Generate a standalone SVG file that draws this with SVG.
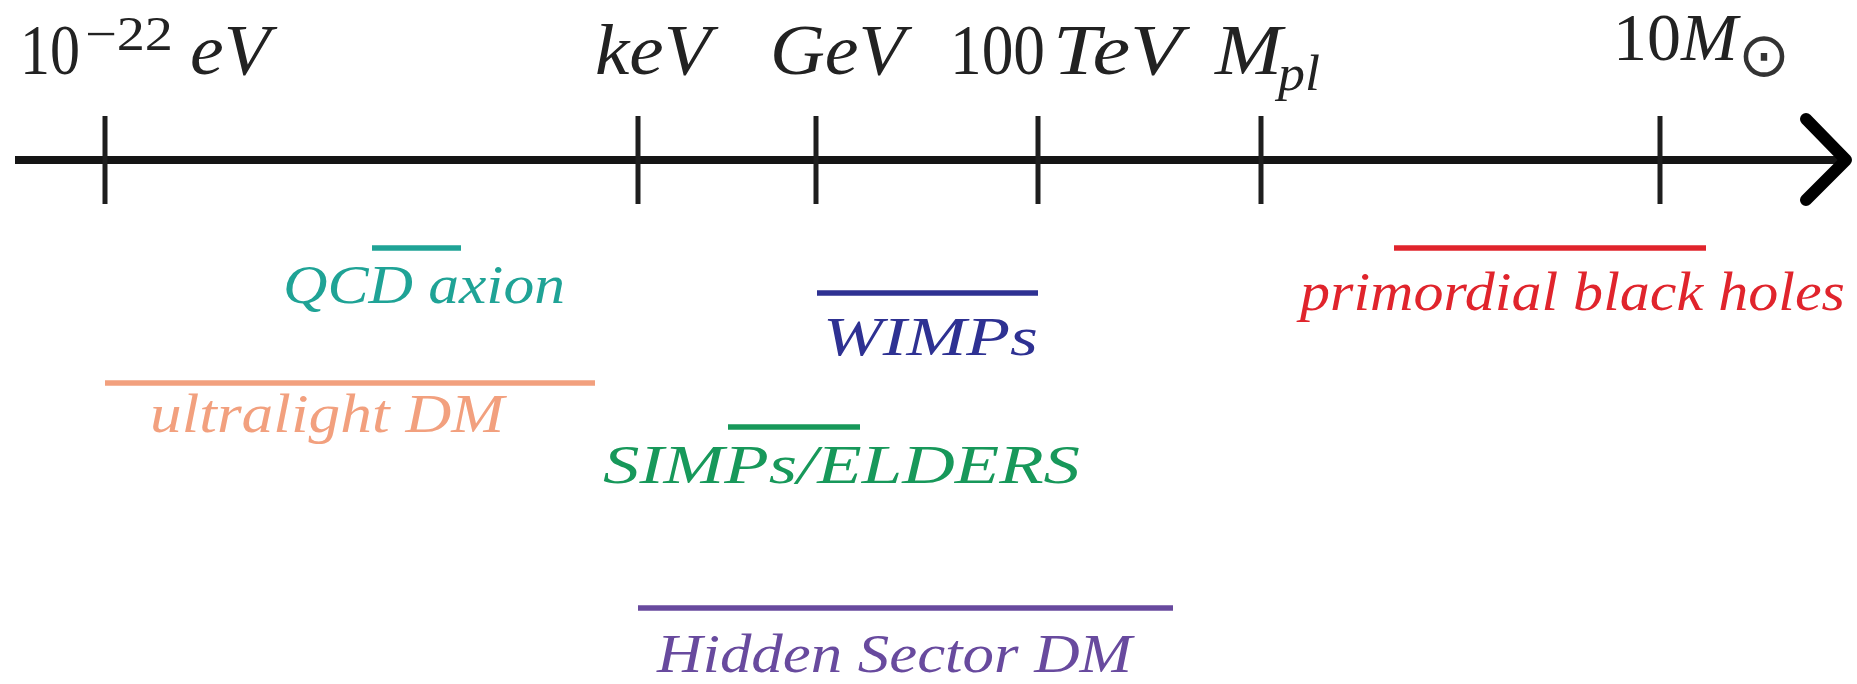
<svg xmlns="http://www.w3.org/2000/svg" width="1857" height="684" viewBox="0 0 1857 684">
<style>
.it{font-family:"Liberation Serif","Times New Roman",serif;font-style:italic}
.rm{font-family:"Liberation Serif","Times New Roman",serif}
.top{font-size:72px;fill:#222222}
.lab{font-size:55px}
.tick{stroke:#1e1e1e;stroke-width:5}
.bar{stroke-width:5.5;fill:none}
</style>
<rect width="1857" height="684" fill="#ffffff"/>
<g id="axis">
<line x1="15" y1="160" x2="1842" y2="160" stroke="#151515" stroke-width="8"/>
<polyline points="1806,119 1846,160 1806,200" fill="none" stroke="#000" stroke-width="12" stroke-linecap="round" stroke-linejoin="round"/>
<line class="tick" x1="105" y1="116" x2="105" y2="204"/>
<line class="tick" x1="638" y1="116" x2="638" y2="204"/>
<line class="tick" x1="816" y1="116" x2="816" y2="204"/>
<line class="tick" x1="1038" y1="116" x2="1038" y2="204"/>
<line class="tick" x1="1261" y1="116" x2="1261" y2="204"/>
<line class="tick" x1="1660" y1="116" x2="1660" y2="204"/>
</g>
<g id="label-1e-22eV">
<text class="rm top" x="20" y="74" textLength="60" lengthAdjust="spacingAndGlyphs">10</text>
<text class="rm" x="85" y="50" font-size="48" fill="#222222" textLength="88" lengthAdjust="spacingAndGlyphs">−22</text>
<text class="it top" x="190" y="74" textLength="80" lengthAdjust="spacingAndGlyphs">eV</text>
</g>
<g id="label-keV">
<text class="it top" x="595" y="74" textLength="116" lengthAdjust="spacingAndGlyphs">keV</text>
</g>
<g id="label-GeV">
<text class="it top" x="770" y="74" textLength="135" lengthAdjust="spacingAndGlyphs">GeV</text>
</g>
<g id="label-100TeV">
<text class="rm top" x="950" y="74" textLength="95" lengthAdjust="spacingAndGlyphs">100</text>
<text class="it top" x="1053" y="74" textLength="129" lengthAdjust="spacingAndGlyphs">TeV</text>
</g>
<g id="label-Mpl">
<text class="it top" x="1215" y="74" textLength="67" lengthAdjust="spacingAndGlyphs">M</text>
<text class="it" x="1278" y="90" font-size="50" fill="#222222" textLength="42" lengthAdjust="spacingAndGlyphs">pl</text>
</g>
<g id="label-10Msun">
<text class="rm" x="1613" y="60" font-size="68" fill="#222222"><tspan>10</tspan><tspan class="it">M</tspan></text>
<text x="1764" y="76" font-family="DejaVu Sans,sans-serif" font-size="62" fill="#333333" text-anchor="middle">⊙</text>
</g>
<g id="qcd-axion">
<line class="bar" x1="372" y1="248" x2="461" y2="248" stroke="#1fa396"/>
<text class="it lab" x="283" y="303" fill="#1fa396" textLength="282" lengthAdjust="spacingAndGlyphs">QCD axion</text>
</g>
<g id="wimps">
<line class="bar" x1="817" y1="293" x2="1038" y2="293" stroke="#2e3192"/>
<text class="it lab" x="823" y="355" fill="#2e3192" textLength="215" lengthAdjust="spacingAndGlyphs">WIMPs</text>
</g>
<g id="primordial-black-holes">
<line class="bar" x1="1394" y1="248" x2="1706" y2="248" stroke="#e0242c"/>
<text class="it lab" x="1300" y="310" fill="#e0242c" textLength="545" lengthAdjust="spacingAndGlyphs">primordial black holes</text>
</g>
<g id="ultralight-dm">
<line class="bar" x1="105" y1="383" x2="595" y2="383" stroke="#f2a07e"/>
<text class="it lab" x="150" y="432" fill="#f2a07e" textLength="354" lengthAdjust="spacingAndGlyphs">ultralight DM</text>
</g>
<g id="simps-elders">
<line class="bar" x1="728" y1="427" x2="860" y2="427" stroke="#17985a"/>
<text class="it lab" x="603" y="483" fill="#17985a" textLength="477" lengthAdjust="spacingAndGlyphs">SIMPs/ELDERS</text>
</g>
<g id="hidden-sector-dm">
<line class="bar" x1="638" y1="608" x2="1173" y2="608" stroke="#684a9e"/>
<text class="it lab" x="657" y="672" fill="#684a9e" textLength="475" lengthAdjust="spacingAndGlyphs">Hidden Sector DM</text>
</g>
</svg>
